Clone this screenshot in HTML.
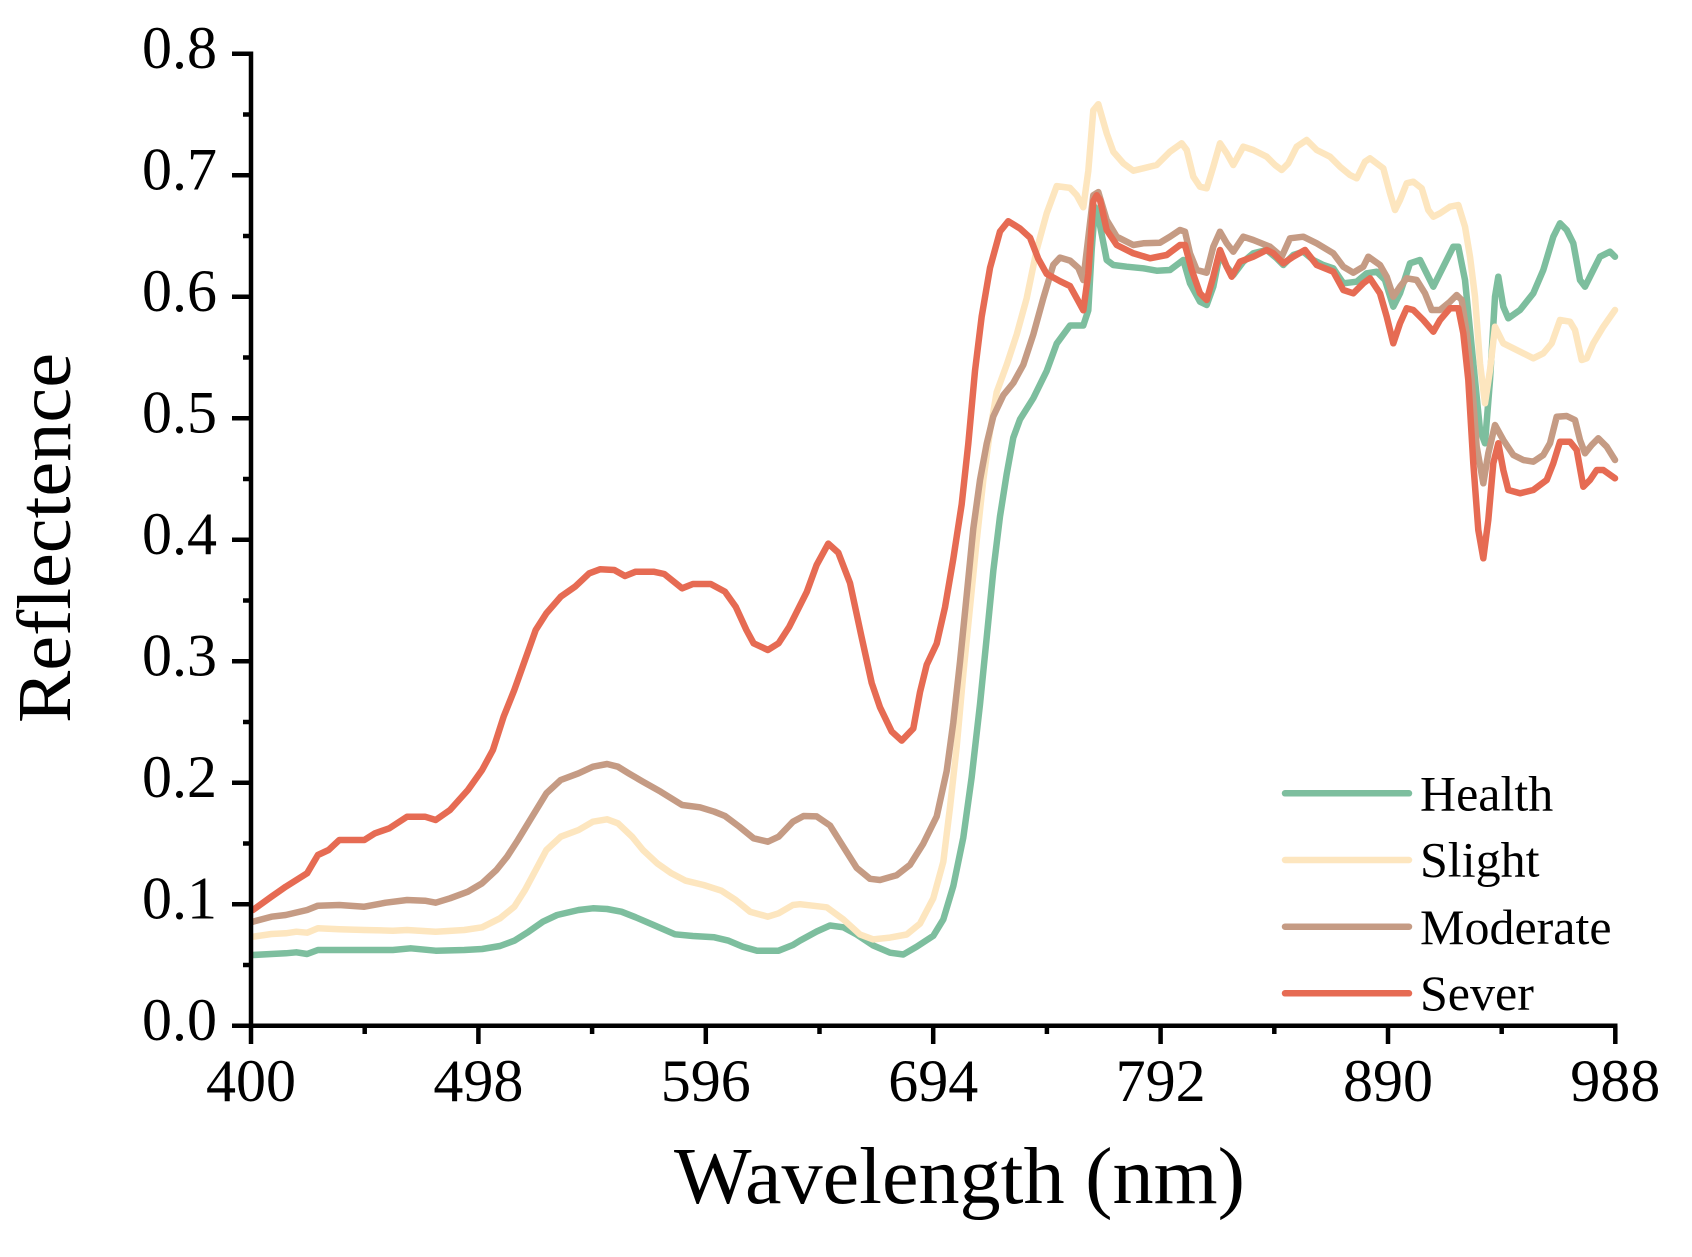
<!DOCTYPE html>
<html>
<head>
<meta charset="utf-8">
<style>
  html, body { margin: 0; padding: 0; background: #ffffff; }
  svg { display: block; }
  text { font-family: "Liberation Serif", "DejaVu Serif", serif; fill: #000; }
</style>
</head>
<body>
<svg width="1692" height="1257" viewBox="0 0 1692 1257" xmlns="http://www.w3.org/2000/svg">
  <rect x="0" y="0" width="1692" height="1257" fill="#ffffff"/>

  <!-- Series -->
  <g fill="none" stroke-width="6.5" stroke-linejoin="round" stroke-linecap="round">
    <!-- Health -->
    <polyline stroke="#7dbe9e" points="252.9,955 271.4,954 285.7,953.3 296.4,952.3 307.1,954 317.9,950 339.3,950 364.3,950 392.9,950 410.7,948.3 435.7,950.7 464.3,950 482.1,949 500,946 514.3,940.7 528.6,931.7 542.9,921.7 557.1,915 578.6,910 592.9,908.3 607.1,909 621.4,911.7 635.7,917.3 653.6,925 675,934.3 692.9,936 714.3,937.3 728.6,940.7 742.9,946.7 757.1,950.7 778.6,950.7 792.9,945 800,940.6 816.7,931.5 830,925.5 843.3,927.3 856.7,934.5 873.3,945.5 890,952.7 903.3,954.5 916.7,946.7 933.3,935.8 943.3,919.4 953.3,886.1 963.3,837.6 971.7,777 980,704.2 986.7,637.6 993.3,570.9 1000,516.4 1006.7,473.9 1013.3,437.6 1020,419.4 1033.3,398.2 1046.7,370.9 1056.7,343.6 1070,325.5 1083.3,325.5 1088.3,310.3 1091.7,249.7 1095,207.3 1100,225.5 1106.7,260 1113.3,265 1126.7,266.7 1143.3,268.3 1156.7,270.7 1170,270 1183.3,260 1190,283.3 1200,301.7 1206.7,305 1213.3,286.7 1220,253.3 1226.7,266.7 1233.3,275 1243.3,261.7 1253.3,253.3 1266.7,250 1276.7,258.3 1283.3,265 1293.3,255 1303.3,251.7 1313.3,260 1323.3,265 1333.3,268.3 1343.3,283.3 1356.7,281.7 1366.7,273.3 1376.7,271.7 1385,280 1393.3,306.7 1400,293.3 1410,263.3 1420,260 1428.3,276.7 1433.3,286.7 1443.3,266.7 1453.3,246.7 1458.3,246.7 1465,280 1470,330 1475,380 1480,430 1485,443.3 1490,380 1495,296.7 1498.3,276.7 1503.3,306.7 1508.3,318.3 1520,310 1533.3,293.3 1543.3,270 1553.3,236.7 1560,223.3 1566.7,230 1573.3,243.3 1580,280 1585,286.7 1593.3,270 1600,256.7 1610,251.7 1615,256.7"/>
    <!-- Slight -->
    <polyline stroke="#fde6bf" points="252.9,936.7 271.4,934 285.7,933.3 296.4,931.7 307.1,932.7 317.9,928.3 339.3,929.3 364.3,930 392.9,930.7 407.1,930 435.7,931.7 464.3,930 482.1,927.3 500,918.3 514.3,906.7 525,890 535.7,870 546.4,850 560.7,836.7 578.6,830 592.9,821.7 607.1,819.3 617.9,823.3 632.1,836.7 642.9,850 657.1,863.3 671.4,873.3 685.7,880.7 703.6,885 721.4,890.7 735.7,900 750,911.7 767.9,916.7 778.6,913.3 792.9,905 800,904.2 826.7,907.3 843.3,919.4 860,934.5 873.3,939.4 890,937.6 906.7,934.5 920,923.6 933.3,898.2 943.3,861.8 950,807.3 956.7,746.7 963.3,673.9 970,607.3 976.7,540.6 983.3,480 990,431.5 996.7,392.1 1006.7,364.8 1016.7,334.5 1026.7,298.2 1036.7,249.7 1046.7,213.3 1056.7,186.1 1070,187.9 1076.7,195.2 1083.3,207.3 1088.3,170.9 1093.3,110.3 1098.3,104.2 1106.7,133.3 1113.3,151.7 1123.3,163.3 1133.3,170.7 1143.3,168.3 1156.7,165 1170,151.7 1181.7,143.3 1186.7,150 1193.3,176.7 1200,186.7 1206.7,188.3 1213.3,166.7 1220,143.3 1226.7,153.3 1233.3,165 1243.3,146.7 1253.3,150 1266.7,156.7 1275,165 1281.7,170 1288.3,163.3 1296.7,146.7 1306.7,140 1316.7,150 1330,156.7 1340,166.7 1350,175 1356.7,178.3 1365,161.7 1370,158.3 1383.3,168.3 1390,193.3 1395,210 1400,200 1406.7,183.3 1413.3,181.7 1421.7,188.3 1428.3,210 1433.3,216.7 1440,213.3 1450,206.7 1458.3,205 1465,226.7 1470,256.7 1475,296.7 1480,363.3 1485,403.3 1490,370 1495,326.7 1503.3,343.3 1513.3,348.3 1523.3,353.3 1533.3,358.3 1543.3,353.3 1551.7,343.3 1560,320 1570,321.7 1575,330 1581.7,360 1586.7,358.3 1593.3,343.3 1603.3,326.7 1615,310"/>
    <!-- Moderate -->
    <polyline stroke="#c59b84" points="252.9,921.7 271.4,916.7 285.7,915 307.1,910 317.9,905.7 339.3,905 364.3,906.7 385.7,902.7 407.1,900 425,900.7 435.7,902.7 450,898.3 467.9,891.7 482.1,883.3 496.4,870 507.1,856.7 517.9,840 532.1,816.7 546.4,793.3 560.7,780 578.6,773.3 592.9,766.7 607.1,764 617.9,766.7 628.6,773.3 642.9,781.7 660.7,791.7 682.1,805 700,807.3 714.3,811.7 725,816 739.3,826.7 753.6,838.3 767.9,841.7 778.6,836.7 792.9,821.7 803.6,816 816.7,816.4 830,825.5 843.3,846.7 856.7,867.9 870,878.8 880,880 896.7,875.2 910,864.8 923.3,843.6 936.7,816.4 946.7,770.9 953.3,722.4 960,661.8 966.7,595.2 973.3,528.5 980,480 986.7,443.6 993.3,416.4 1003.3,395.2 1013.3,383 1023.3,364.8 1033.3,334.5 1043.3,298.2 1053.3,264.8 1060,257.6 1070,260.6 1078.3,267.9 1083.3,280 1088.3,237.6 1093.3,195.2 1098.3,192.1 1106.7,220 1116.7,236.7 1133.3,245 1143.3,243.3 1160,242.7 1170,236.7 1180,230 1185,231.7 1190,253.3 1196.7,270 1206.7,272.7 1213.3,246.7 1220,231.7 1226.7,243.3 1233.3,251.7 1243.3,236.7 1253.3,240 1270,246.7 1281.7,256.7 1290,238.3 1303.3,236.7 1316.7,243.3 1333.3,253.3 1343.3,266.7 1353.3,272.7 1363.3,266.7 1368.3,256.7 1380,265 1386.7,276.7 1393.3,296.7 1400,286.7 1406.7,278.3 1416.7,280 1425,293.3 1431.7,310 1440,310 1450,301.7 1456.7,295 1461.7,300 1466.7,333.3 1471.7,380 1476.7,446.7 1483.3,483.3 1488.3,453.3 1495,425 1503.3,440 1513.3,455 1523.3,460 1533.3,461.7 1543.3,455 1550,443.3 1556.7,416.7 1566.7,416 1575,420 1580,440 1585,453.3 1591.7,445 1598.3,438.3 1606.7,446.7 1615,460"/>
    <!-- Sever -->
    <polyline stroke="#e66b53" points="252.9,910 271.4,896.7 285.7,886.7 296.4,880 307.1,873.3 317.9,855 328.6,850 339.3,840 364.3,840 375,833.3 389.3,828.3 407.1,816.7 425,816.7 435.7,820 450,810 467.9,790 482.1,770 492.9,750 503.6,716.7 514.3,690 525,660 535.7,630 546.4,613.3 560.7,596.7 575,586.7 589.3,573.3 600,569.3 614.3,570 625,576 635.7,571.7 653.6,571.7 664.3,574 682.1,588.3 692.9,584 710.7,584 725,591.7 735.7,606.7 746.4,630 753.6,643.3 767.9,650 778.6,643.3 789.3,626.7 806.7,592.1 816.7,564.8 828.3,543.6 838.3,552.7 850,583 861.7,637.6 871.7,683 880,707.3 891.7,731.5 901.7,740.6 913.3,728.5 920,692.1 926.7,664.8 936.7,643.6 945,607.3 953.3,558.8 961.7,504.2 968.3,443.6 975,370.9 981.7,316.4 990,267.9 1000,231.5 1008.3,221.2 1020,228.5 1030,237.6 1038.3,258.8 1046.7,273.9 1060,281.2 1070,286.1 1076.7,298.2 1083.3,310.3 1088.3,273.9 1093.3,201.2 1096.7,195.2 1100,200 1106.7,230 1116.7,245 1133.3,253.3 1150,258.3 1166.7,255 1180,245 1185,245 1191.7,270 1200,293.3 1206.7,300 1213.3,276.7 1220,250 1226.7,266.7 1231.7,276.7 1240,261.7 1253.3,256.7 1266.7,250 1273.3,253.3 1283.3,263.3 1293.3,256.7 1305,250 1316.7,265 1333.3,271.7 1343.3,290 1353.3,293.3 1363.3,283.3 1370,278.3 1380,293.3 1386.7,316.7 1393.3,343.3 1400,323.3 1406.7,308.3 1413.3,310 1423.3,320 1433.3,331.7 1440,320 1450,308.3 1458.3,308.3 1463.3,333.3 1468.3,380 1473.3,463.3 1478.3,530 1483.3,558.3 1488.3,520 1493.3,463.3 1498.3,443.3 1503.3,470 1508.3,490 1520,493.3 1533.3,490 1546.7,480 1553.3,463.3 1560,441.7 1570,441.7 1576.7,450 1583.3,486.7 1590,480 1596.7,470 1603.3,470 1615,478.3"/>
  </g>

  <!-- Axes -->
  <g stroke="#000" stroke-width="4.5" fill="none">
    <line x1="251" y1="51.5" x2="251" y2="1028"/>
    <line x1="248.8" y1="1025.8" x2="1617.5" y2="1025.8"/>
    <!-- y major ticks -->
    <line x1="232" y1="1025.8" x2="251" y2="1025.8"/>
    <line x1="232" y1="904.3" x2="251" y2="904.3"/>
    <line x1="232" y1="782.8" x2="251" y2="782.8"/>
    <line x1="232" y1="661.3" x2="251" y2="661.3"/>
    <line x1="232" y1="539.8" x2="251" y2="539.8"/>
    <line x1="232" y1="418.3" x2="251" y2="418.3"/>
    <line x1="232" y1="296.8" x2="251" y2="296.8"/>
    <line x1="232" y1="175.3" x2="251" y2="175.3"/>
    <line x1="232" y1="53.8" x2="251" y2="53.8"/>
    <!-- y minor ticks -->
    <line x1="243" y1="965" x2="251" y2="965"/>
    <line x1="243" y1="843.5" x2="251" y2="843.5"/>
    <line x1="243" y1="722" x2="251" y2="722"/>
    <line x1="243" y1="600.5" x2="251" y2="600.5"/>
    <line x1="243" y1="479" x2="251" y2="479"/>
    <line x1="243" y1="357.5" x2="251" y2="357.5"/>
    <line x1="243" y1="236" x2="251" y2="236"/>
    <line x1="243" y1="114.5" x2="251" y2="114.5"/>
    <!-- x major ticks -->
    <line x1="251" y1="1025.8" x2="251" y2="1044"/>
    <line x1="478.4" y1="1025.8" x2="478.4" y2="1044"/>
    <line x1="705.8" y1="1025.8" x2="705.8" y2="1044"/>
    <line x1="933.2" y1="1025.8" x2="933.2" y2="1044"/>
    <line x1="1160.6" y1="1025.8" x2="1160.6" y2="1044"/>
    <line x1="1388" y1="1025.8" x2="1388" y2="1044"/>
    <line x1="1615.3" y1="1025.8" x2="1615.3" y2="1044"/>
    <!-- x minor ticks -->
    <line x1="364.7" y1="1025.8" x2="364.7" y2="1034"/>
    <line x1="592.1" y1="1025.8" x2="592.1" y2="1034"/>
    <line x1="819.5" y1="1025.8" x2="819.5" y2="1034"/>
    <line x1="1046.9" y1="1025.8" x2="1046.9" y2="1034"/>
    <line x1="1274.3" y1="1025.8" x2="1274.3" y2="1034"/>
    <line x1="1501.7" y1="1025.8" x2="1501.7" y2="1034"/>
  </g>

  <!-- Y tick labels -->
  <g font-size="60" text-anchor="end">
    <text x="217" y="1040">0.0</text>
    <text x="217" y="918.5">0.1</text>
    <text x="217" y="797">0.2</text>
    <text x="217" y="675.5">0.3</text>
    <text x="217" y="554">0.4</text>
    <text x="217" y="432.5">0.5</text>
    <text x="217" y="311">0.6</text>
    <text x="217" y="189.5">0.7</text>
    <text x="217" y="68">0.8</text>
  </g>

  <!-- X tick labels -->
  <g font-size="60" text-anchor="middle">
    <text x="251" y="1101">400</text>
    <text x="478.4" y="1101">498</text>
    <text x="705.8" y="1101">596</text>
    <text x="933.2" y="1101">694</text>
    <text x="1160.6" y="1101">792</text>
    <text x="1388" y="1101">890</text>
    <text x="1615.3" y="1101">988</text>
  </g>

  <!-- Axis titles -->
  <text x="959.5" y="1203" font-size="80" text-anchor="middle" textLength="571" lengthAdjust="spacingAndGlyphs">Wavelength (nm)</text>
  <text transform="translate(70,538) rotate(-90)" font-size="76" text-anchor="middle" textLength="370" lengthAdjust="spacingAndGlyphs">Reflectence</text>

  <!-- Legend -->
  <g stroke-width="6.5" stroke-linecap="round">
    <line x1="1285" y1="793.3" x2="1409" y2="793.3" stroke="#7dbe9e"/>
    <line x1="1285" y1="860" x2="1409" y2="860" stroke="#fde6bf"/>
    <line x1="1285" y1="926.7" x2="1409" y2="926.7" stroke="#c59b84"/>
    <line x1="1285" y1="993.3" x2="1409" y2="993.3" stroke="#e66b53"/>
  </g>
  <g font-size="50">
    <text x="1420" y="810.7">Health</text>
    <text x="1420" y="876.7">Slight</text>
    <text x="1420" y="944">Moderate</text>
    <text x="1420" y="1010">Sever</text>
  </g>
</svg>
</body>
</html>
